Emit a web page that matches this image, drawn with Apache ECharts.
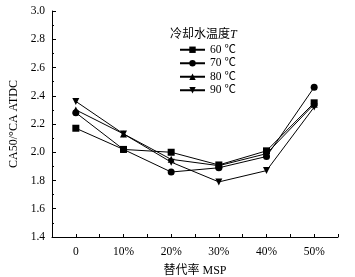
<!DOCTYPE html>
<html>
<head>
<meta charset="utf-8">
<script src="https://cdn.jsdelivr.net/npm/echarts@6/dist/echarts.min.js"></script>
<style>
  html, body { margin: 0; padding: 0; background: #fff; }
  #chart { width: 355px; height: 277px; }
</style>
</head>
<body>
<div id="chart"></div>
<script>
// 替代率 MSP (%)
const msp = [0, 10, 20, 30, 40, 50];
// CA50 for each cooling water temperature
const t60 = [2.17, 2.02, 2.00, 1.91, 2.01, 2.35];
const t70 = [2.28, 2.02, 1.86, 1.89, 1.97, 2.46];
const t80 = [2.30, 2.13, 1.95, 1.905, 1.99, 2.34];
const t90 = [2.36, 2.13, 1.93, 1.79, 1.87, 2.32];
const names = ['60 ℃', '70 ℃', '80 ℃', '90 ℃'];

const font = '"Liberation Serif", "Times New Roman", "Noto Sans CJK SC", serif';

function pairs(vals) {
  return msp.map((x, i) => [x, vals[i]]);
}

function mkSeries(name, vals, symbol, rotate) {
  return {
    name: name,
    type: 'line',
    data: pairs(vals),
    symbol: symbol,
    symbolSize: 7,
    symbolRotate: rotate || 0,
    lineStyle: { color: '#000', width: 1 },
    itemStyle: { color: '#000' },
    emphasis: { disabled: true },
    animation: false
  };
}

const chart = echarts.init(document.getElementById('chart'));
chart.setOption({
  backgroundColor: '#fff',
  animation: false,
  textStyle: { fontFamily: font },
  title: {
    text: '冷却水温度{i|T}',
    left: 165,
    top: 24,
    textStyle: {
      fontFamily: font,
      fontSize: 12,
      fontWeight: 'normal',
      color: '#000',
      rich: { i: { fontStyle: 'italic', fontFamily: font, fontSize: 12, color: '#000' } }
    }
  },
  legend: {
    orient: 'vertical',
    left: 174,
    top: 39,
    itemWidth: 25,
    itemHeight: 8,
    itemGap: 2,
    data: names,
    textStyle: { fontFamily: font, fontSize: 11.5, color: '#000' }
  },
  grid: { left: 52, right: 17, top: 11, bottom: 40, containLabel: false, outerBoundsMode: 'none' },
  xAxis: {
    type: 'value',
    min: -5,
    max: 55,
    interval: 5,
    name: '替代率 MSP',
    nameLocation: 'middle',
    nameGap: 28,
    nameTextStyle: { fontFamily: font, fontSize: 12, color: '#000' },
    axisLine: { show: true, onZero: false, lineStyle: { color: '#000', width: 1 } },
    axisTick: { show: true, inside: true, length: 3, lineStyle: { color: '#000', width: 1 } },
    splitLine: { show: false },
    axisLabel: {
      color: '#000',
      fontSize: 11.5,
      fontFamily: font,
      margin: 9,
      formatter: function (v) {
        if (v < 0 || v > 50 || v % 10 !== 0) return '';
        return v === 0 ? '0' : v + '%';
      }
    }
  },
  yAxis: {
    type: 'value',
    min: 1.4,
    max: 3.0,
    interval: 0.2,
    name: 'CA50/°CA ATDC',
    nameLocation: 'middle',
    nameGap: 29,
    nameTextStyle: { fontFamily: font, fontSize: 12, color: '#000' },
    axisLine: { show: true, onZero: false, lineStyle: { color: '#000', width: 1 } },
    axisTick: { show: true, inside: true, length: 4, lineStyle: { color: '#000', width: 1 } },
    minorTick: { show: true, splitNumber: 2, length: 2, lineStyle: { color: '#000' } },
    splitLine: { show: false },
    axisLabel: {
      color: '#000',
      fontSize: 11.5,
      fontFamily: font,
      margin: 7,
      formatter: function (v) { return v.toFixed(1); }
    }
  },
  series: [
    mkSeries(names[0], t60, 'rect'),
    mkSeries(names[1], t70, 'circle'),
    mkSeries(names[2], t80, 'triangle'),
    mkSeries(names[3], t90, 'triangle', 180)
  ]
});
</script>
</body>
</html>
